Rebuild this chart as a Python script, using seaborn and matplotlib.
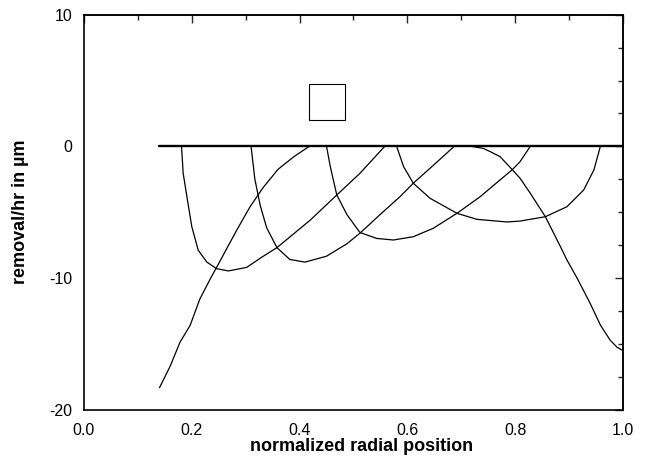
import numpy as np
import pandas as pd
import matplotlib
matplotlib.use("Agg")
import matplotlib.pyplot as plt
from matplotlib.ticker import MultipleLocator
import seaborn as sns

# removal profiles (normalized radial position, removal/hr in um)
curve_a_x = [0.140, 0.160, 0.178, 0.197, 0.215, 0.234, 0.250, 0.283, 0.308, 0.333, 0.360, 0.389, 0.418]
curve_a_y = [-18.35, -16.7, -14.9, -13.6, -11.6, -10.1, -8.9, -6.4, -4.6, -3.1, -1.75, -0.8, 0.0]

curve_b_x = [0.181, 0.184, 0.194, 0.200, 0.212, 0.228, 0.246, 0.268, 0.302, 0.327, 0.358, 0.420, 0.469, 0.512, 0.558]
curve_b_y = [0.0, -2.05, -4.6, -6.1, -7.9, -8.8, -9.3, -9.47, -9.2, -8.5, -7.7, -5.6, -3.7, -2.05, 0.0]

curve_c_x = [0.310, 0.317, 0.327, 0.339, 0.358, 0.382, 0.410, 0.450, 0.488, 0.512, 0.549, 0.587, 0.611, 0.648, 0.687]
curve_c_y = [0.0, -2.5, -4.5, -6.2, -7.7, -8.6, -8.8, -8.35, -7.4, -6.6, -5.2, -3.8, -2.8, -1.45, 0.0]

curve_d_x = [0.450, 0.457, 0.469, 0.488, 0.512, 0.543, 0.574, 0.611, 0.648, 0.692, 0.735, 0.772, 0.794, 0.809, 0.828]
curve_d_y = [0.0, -1.55, -3.7, -5.2, -6.55, -7.0, -7.12, -6.87, -6.23, -5.09, -3.83, -2.55, -1.8, -1.17, 0.0]

curve_e_x = [0.580, 0.593, 0.611, 0.642, 0.692, 0.729, 0.785, 0.809, 0.856, 0.896, 0.927, 0.946, 0.958]
curve_e_y = [0.0, -1.55, -2.81, -3.95, -5.09, -5.55, -5.75, -5.68, -5.35, -4.59, -3.32, -1.8, 0.0]

curve_f_x = [0.718, 0.740, 0.754, 0.772, 0.794, 0.809, 0.828, 0.856, 0.884, 0.896, 0.915, 0.939, 0.958, 0.976, 0.989, 1.000]
curve_f_y = [0.0, -0.15, -0.41, -0.79, -1.75, -2.43, -3.57, -5.35, -7.63, -8.64, -10.03, -11.93, -13.58, -14.72, -15.27, -15.53]

# zero reference line and the lone legend square
baseline_x = [0.14, 1.0]
baseline_y = [0.0, 0.0]
square_x = [0.451]
square_y = [3.37]


def build_frame():
    curves = {
        "a": (curve_a_x, curve_a_y),
        "b": (curve_b_x, curve_b_y),
        "c": (curve_c_x, curve_c_y),
        "d": (curve_d_x, curve_d_y),
        "e": (curve_e_x, curve_e_y),
        "f": (curve_f_x, curve_f_y),
    }
    frames = [pd.DataFrame({"x": xs, "y": ys, "curve": name}) for name, (xs, ys) in curves.items()]
    return pd.concat(frames, ignore_index=True)


sns.set_theme(style="white")
plt.rcParams["font.family"] = ["Liberation Sans", "DejaVu Sans"]
plt.rcParams["axes.unicode_minus"] = False
plt.rcParams["text.color"] = "black"
plt.rcParams["axes.labelcolor"] = "black"

fig = plt.figure(figsize=(6.45, 4.61), dpi=100)
ax = fig.add_axes([0.1302, 0.1117, 0.8357, 0.8564])

df = build_frame()
sns.lineplot(data=df, x="x", y="y", units="curve", estimator=None, sort=False,
             color="black", linewidth=0.9, ax=ax, legend=False)
sns.lineplot(x=baseline_x, y=baseline_y, color="black", linewidth=1.7, ax=ax)
ax.plot(square_x, square_y, marker="s", ms=26, mfc="none", mec="black", mew=0.8, ls="none")

ax.set_xlim(0.0, 1.0)
ax.set_ylim(-20, 10)
ax.xaxis.set_major_locator(MultipleLocator(0.2))
ax.xaxis.set_minor_locator(MultipleLocator(0.1))
ax.yaxis.set_major_locator(MultipleLocator(10))
ax.yaxis.set_minor_locator(MultipleLocator(2.5))
ax.xaxis.set_major_formatter(plt.FormatStrFormatter("%.1f"))
ax.yaxis.set_major_formatter(plt.FormatStrFormatter("%d"))

for s in ax.spines.values():
    s.set_color("black")
    s.set_linewidth(1.2)

ax.tick_params(which="major", direction="inout", length=7, width=1, colors="black",
               labelsize=11.5, pad=5)
ax.tick_params(which="minor", direction="in", length=3.5, width=1, colors="black")
ax.tick_params(axis="x", which="major", pad=6.5)

# top and right ticks point inward only
top = ax.secondary_xaxis("top")
top.xaxis.set_major_locator(MultipleLocator(0.2))
top.xaxis.set_minor_locator(MultipleLocator(0.1))
top.tick_params(which="major", direction="in", length=5.5, width=1, labeltop=False)
top.tick_params(which="minor", direction="in", length=3.5, width=1)
right = ax.secondary_yaxis("right")
right.yaxis.set_major_locator(MultipleLocator(10))
right.yaxis.set_minor_locator(MultipleLocator(2.5))
right.tick_params(which="major", direction="in", length=5.5, width=1, labelright=False)
right.tick_params(which="minor", direction="in", length=3.5, width=1)

ax.set_xlabel("normalized radial position", fontsize=13, fontweight="bold")
ax.set_ylabel("removal/hr in µm", fontsize=13, fontweight="bold")
ax.xaxis.set_label_coords(0.515, -0.072)
ax.yaxis.set_label_coords(-0.102, 0.5)

fig.savefig("out.png", dpi=100)
